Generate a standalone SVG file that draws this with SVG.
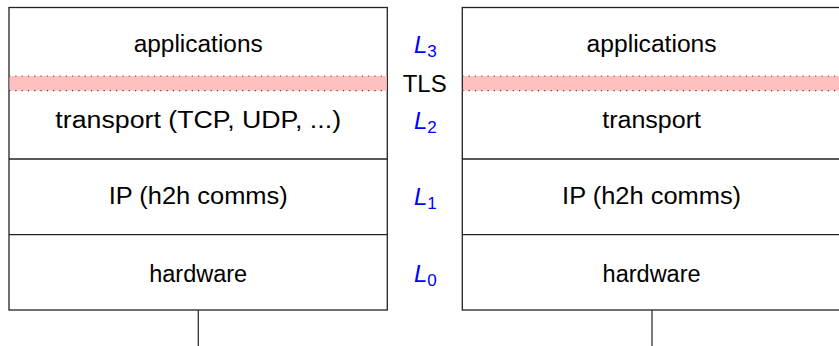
<svg xmlns="http://www.w3.org/2000/svg" width="839" height="346" viewBox="0 0 839 346">
<style>
.box{fill:#fff;stroke:#222;stroke-width:1.3}
.div{stroke:#222;stroke-width:1.3}
.lbl{font-family:"Liberation Sans",Arial,sans-serif;font-size:23px;fill:#000;text-anchor:middle}
.lay{font-family:"Liberation Sans",Arial,sans-serif;font-size:24px;font-style:italic;fill:#0000ff}
.sub{font-size:17px;font-style:normal}
.band{fill:#ffbfbf}
.dot{stroke:#444;stroke-width:1.2;stroke-dasharray:1.2 5.1}
.conn{stroke:#333;stroke-width:1.3;fill:none}
</style>
<rect width="839" height="346" fill="#fff"/>
<g id="stack-left">
<rect class="box" x="9" y="7.5" width="378.3" height="302.5"/>
<line class="div" x1="9" y1="159" x2="387.3" y2="159"/>
<line class="div" x1="9" y1="234.7" x2="387.3" y2="234.7"/>
<rect class="band" x="9.6" y="76" width="377" height="14.7"/>
<line class="dot" x1="9" y1="76" x2="387.3" y2="76"/>
<line class="dot" x1="9" y1="90.7" x2="387.3" y2="90.7"/>
<text class="lbl" x="198.2" y="52" textLength="129" lengthAdjust="spacingAndGlyphs">applications</text>
<text class="lbl" x="198.2" y="128" textLength="285.7" lengthAdjust="spacingAndGlyphs">transport (TCP, UDP, ...)</text>
<text class="lbl" x="198.2" y="204.3" textLength="179" lengthAdjust="spacingAndGlyphs">IP (h2h comms)</text>
<text class="lbl" x="198.2" y="281.7" textLength="98" lengthAdjust="spacingAndGlyphs">hardware</text>
</g>
<g id="stack-right">
<rect class="box" x="462.3" y="7.5" width="378.3" height="302.5"/>
<line class="div" x1="462.3" y1="159" x2="840.6" y2="159"/>
<line class="div" x1="462.3" y1="234.7" x2="840.6" y2="234.7"/>
<rect class="band" x="463" y="76" width="377" height="14.7"/>
<line class="dot" x1="462.3" y1="76" x2="840.6" y2="76"/>
<line class="dot" x1="462.3" y1="90.7" x2="840.6" y2="90.7"/>
<text class="lbl" x="651.6" y="52" textLength="130" lengthAdjust="spacingAndGlyphs">applications</text>
<text class="lbl" x="651.6" y="128" textLength="98.7" lengthAdjust="spacingAndGlyphs">transport</text>
<text class="lbl" x="651.6" y="204.3" textLength="179" lengthAdjust="spacingAndGlyphs">IP (h2h comms)</text>
<text class="lbl" x="651.6" y="281.7" textLength="98" lengthAdjust="spacingAndGlyphs">hardware</text>
</g>
<g id="layer-labels">
<text class="lay" x="414" y="52.5">L<tspan class="sub" dy="4.5">3</tspan></text>
<text class="lbl" x="424.7" y="92.3" textLength="44" lengthAdjust="spacingAndGlyphs">TLS</text>
<text class="lay" x="414" y="128.5">L<tspan class="sub" dy="4.5">2</tspan></text>
<text class="lay" x="414" y="204.5">L<tspan class="sub" dy="4.5">1</tspan></text>
<text class="lay" x="414" y="281.5">L<tspan class="sub" dy="4.5">0</tspan></text>
</g>
<g id="connectors">
<line class="conn" x1="198.3" y1="310" x2="198.3" y2="346"/>
<line class="conn" x1="652" y1="310" x2="652" y2="346"/>
</g>
</svg>
